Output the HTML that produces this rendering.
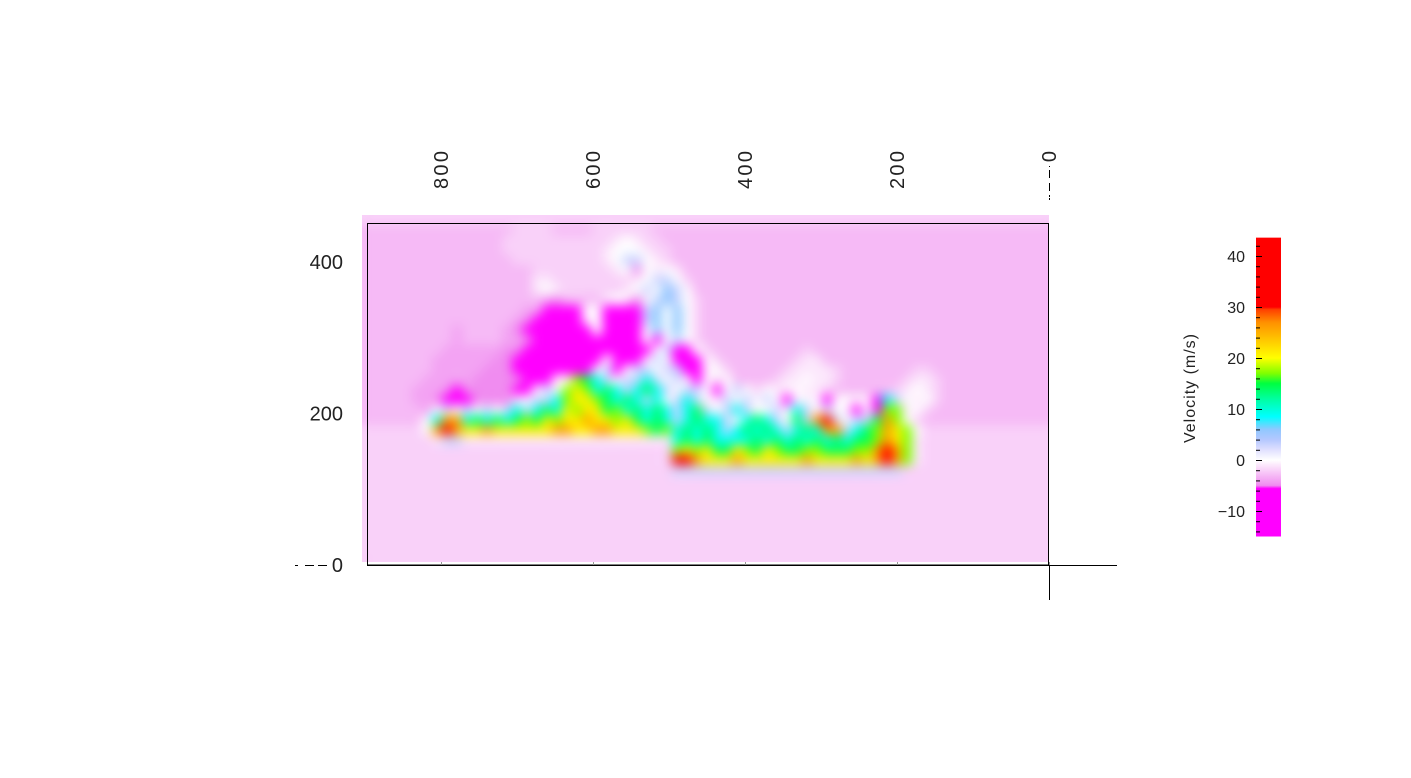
<!DOCTYPE html>
<html><head><meta charset="utf-8">
<style>
html,body{margin:0;padding:0;background:#fff;width:1411px;height:778px;overflow:hidden}
#wrap{position:relative;width:1411px;height:778px}
</style></head>
<body>
<div id="wrap">
<canvas id="heat" width="687" height="347" style="position:absolute;left:362px;top:215px"></canvas>
<svg id="ax" width="1411" height="778" style="position:absolute;left:0;top:0"></svg>
</div>
<script>
// heatmap grid: 69 cols x 35 rows, 10px cells; char codes map to velocity values (m/s)
const codeChars = ["M","m","P","p","q","l","k","w","b","B","c","g","G","y","o","r"];
const codeValues = [-13,-8,-5,-4,-3,-2,-1,0,3,6,9,14,17,21,26,35];
const q10="qqqqqqqqqq", l10="llllllllll";
const gridRows = [
l10+l10+l10+l10+l10+l10+"lllllllll",
"qqqqqqqqqq"+"qqqqqllllq"+"qqqllllllq"+q10+q10+q10+"qqqqqqqqq",
"qqqqqqqqqq"+"qqqqllllll"+"lllllkwkll"+q10+q10+q10+"qqqqqqqqq",
"qqqqqqqqqq"+"qqqqllllll"+"llllkwwwkl"+"lqqqqqqqqq"+q10+q10+"qqqqqqqqq",
"qqqqqqqqqq"+"qqqqqlllll"+"llllkwbbwk"+"lqqqqqqqqq"+q10+q10+"qqqqqqqqq",
"qqqqqqqqqq"+"qqqqqqqlll"+"lllllkwPwk"+"wkqqqqqqqq"+q10+q10+"qqqqqqqqq",
"qqqqqqqqqq"+"qqqqqqqkkl"+"lllllllkwb"+"bwlqqqqqqq"+q10+q10+"qqqqqqqqq",
"qqqqqqqqqq"+"qqqqqqqkwk"+"llllllkwbw"+"Bbwqqqqqqq"+q10+q10+"qqqqqqqqq",
"qqqqqqqqqq"+"qqqqqqqqpP"+"qqqqkwkPwb"+"Bbwlqqqqqq"+q10+q10+"qqqqqqqqq",
"qqqqqqqqqq"+"qqqqqqppmM"+"MmwwMMMmbB"+"wBwlqqqqqq"+q10+q10+"qqqqqqqqq",
"qqqqqqqqqq"+"qqqqqpPmMM"+"MMkwMMMMbB"+"wBwlqqqqqq"+q10+q10+"qqqqqqqqq",
"qqqqqqqqqp"+"qqqqpPmMMM"+"MMMwMMMMwB"+"wBwlqqqqqq"+q10+q10+"qqqqqqqqq",
"qqqqqqqqqp"+"qqqqppPMMM"+"MMMMMMMMwM"+"wbwlqqqqqq"+q10+q10+"qqqqqqqqq",
"qqqqqqqqpp"+"ppppPPMMMM"+"MMMMMMMMMw"+"bMMwlqqqqq"+"qqqqlqqqqq"+q10+"qqqqqqqqq",
"qqqqqqqppp"+"pppPPmMMMM"+"MMMMwMMMwb"+"wMMMwlqqqq"+"qqqlkkqqqq"+q10+"qqqqqqqqq",
"qqqqqqqppp"+"ppPPPmMMMM"+"MMMwbMwbbw"+"bbMMkwlqqq"+"qqlkkkklqq"+"qqqqqllqqq"+"qqqqqqqqq",
"qqqqqqpppp"+"pPPPPPmMMw"+"wGgcbwbbcb"+"wbwmwlwqqq"+"qlkkwkklqq"+"qqqqlkklqq"+"qqqqqqqqq",
"qqqqqpppPm"+"PPPPPmmwbw"+"GyGcgcbcgc"+"bwbbwmwbwl"+"wkkwkklqqq"+"qqqlkwklqq"+"qqqqqqqqq",
"qqqqqppPMM"+"MPPPPkwbbc"+"GyyGgcgcbc"+"wbcbwkbwbw"+"bwmwkwMwwk"+"wmcbwkwlqq"+"qqqqqqqqq",
"qqqqqqpwbw"+"bwbwbcbcgc"+"yGyygGcgcg"+"cbcgbwbcbw"+"wbwcbwbwkm"+"wmGGkwlqqq"+"qqqqqqqqq",
"qqqqqqwcoo"+"cgcgcgGgyG"+"yyoyyGygcg"+"cbcgccbwcg"+"cbwgborbwb"+"bgoGwlqqqq"+"qqqqqqqqq",
"llllllworo"+"yyoyyyyyyo"+"oyyooyyyGg"+"Gcgcgcbcgc"+"gcbcgcoobc"+"gGoyGwllll"+"lllllllll",
"lllllllkbb"+"kkkkkkkkkk"+"kkkkkkkkkk"+"kcgcgccccg"+"cgcgcgcgcg"+"gGoyGkllll"+"lllllllll",
l10+l10+l10+"lG"+"yGyggyGg"+"yGggGGgggG"+"GoroGkllll"+"lllllllll",
l10+l10+l10+"lr"+"royyyoyy"+"yyyyoyyyyo"+"yoroGkllll"+"lllllllll",
l10+l10+l10+"lbbbbbbbbb"+"bbbbbbbbbb"+"bbbbllllll"+"lllllllll",
l10+l10+l10+l10+l10+l10+"lllllllll",
l10+l10+l10+l10+l10+l10+"lllllllll",
l10+l10+l10+l10+l10+l10+"lllllllll",
l10+l10+l10+l10+l10+l10+"lllllllll",
l10+l10+l10+l10+l10+l10+"lllllllll",
l10+l10+l10+l10+l10+l10+"lllllllll",
l10+l10+l10+l10+l10+l10+"lllllllll",
l10+l10+l10+l10+l10+l10+"lllllllll",
l10+l10+l10+l10+l10+l10+"lllllllll"
];
// colour scale stops (value -> colour)
const scaleValues = [-15,-5.6,-5,0,2,4,6,8.5,12,15,17,20,23,27,29.5,30,44];
const scaleColors = ["#ff00ff","#ff00ff","#f08cf0","#ffffff","#e0e0ff","#b4c8ff","#90c8ff","#00ffff","#00ffa0","#00ff40","#80ff00","#ffff00","#ffd000","#ff9000","#ff4000","#ff0000","#ff0000"];
const xTicks = [800,600,400,200,0];
const yTicks = [400,200,0];
const cbTicks = [40,30,20,10,0,-10];

function hex(c){return [parseInt(c.substr(1,2),16),parseInt(c.substr(3,2),16),parseInt(c.substr(5,2),16)];}
function colorFor(v){
  if(v<=scaleValues[0])return hex(scaleColors[0]);
  for(let i=1;i<scaleValues.length;i++){
    if(v<=scaleValues[i]){const t=(v-scaleValues[i-1])/(scaleValues[i]-scaleValues[i-1]);
      const a=hex(scaleColors[i-1]),b=hex(scaleColors[i]);
      return [0,1,2].map(k=>Math.round(a[k]+(b[k]-a[k])*t));}
  }
  return hex(scaleColors[scaleColors.length-1]);
}
const xPx = u => 1049 - u*0.76;
const yPx = u => 565 - u*0.7575;
const cbY = v => 460 - v*5.1;

(function(){
  const cols=69, rows=gridRows.length;
  const src=document.createElement('canvas');src.width=cols;src.height=rows;
  const sctx=src.getContext('2d');const img=sctx.createImageData(cols,rows);
  for(let r=0;r<rows;r++){for(let c=0;c<cols;c++){
    const ch=gridRows[r][c]||'l';const idx=codeChars.indexOf(ch);
    const v=codeValues[idx<0?5:idx];const col=colorFor(v);const p=(r*cols+c)*4;
    img.data[p]=col[0];img.data[p+1]=col[1];img.data[p+2]=col[2];img.data[p+3]=255;}}
  sctx.putImageData(img,0,0);
  const ctx=document.getElementById('heat').getContext('2d');
  ctx.imageSmoothingEnabled=true;ctx.imageSmoothingQuality='high';
  ctx.drawImage(src,0,0,cols*10,rows*10);
  ctx.filter='blur(5px)';
  ctx.drawImage(src,0,0,cols*10,rows*10);
  ctx.filter='none';
})();

const svg=document.getElementById('ax');const NS='http://www.w3.org/2000/svg';
function mk(tag,attrs,name){const e=document.createElementNS(NS,tag);for(const k in attrs)e.setAttribute(k,attrs[k]);
  
  
  svg.appendChild(e);return e;}
mk('rect',{x:367.5,y:223.5,width:681,height:341.5,fill:'none',stroke:'#000','stroke-width':1},'plot-frame');
mk('line',{x1:367,y1:565.5,x2:1117,y2:565.5,stroke:'#000'},'x-axis-line');
mk('line',{x1:1049.5,y1:565,x2:1049.5,y2:600,stroke:'#000'},'y-axis-extension');
mk('line',{x1:1049.5,y1:166,x2:1049.5,y2:200,stroke:'#000','stroke-dasharray':'1 3 8 5 8 4 2'},'top-zero-tick');
mk('line',{x1:295,y1:565.5,x2:331,y2:565.5,stroke:'#000','stroke-dasharray':'3 7 9 4 9 4'},'left-zero-tick');
xTicks.forEach(v=>{
  const t=mk('text',{x:0,y:0,transform:`translate(${xPx(v)+7},${151}) rotate(-90)`,'text-anchor':'end','font-family':'Liberation Sans, sans-serif','font-size':20,'textLength':v===0?12:38,fill:'#222'},'x-tick-label');
  t.textContent=v;
  mk('line',{x1:xPx(v)+0.5,y1:562,x2:xPx(v)+0.5,y2:565,stroke:'#999'},'x-tick');
});
yTicks.forEach(v=>{
  const t=mk('text',{x:343,y:yPx(v)+7,'text-anchor':'end','font-family':'Liberation Sans, sans-serif','font-size':20,fill:'#222'},'y-tick-label');
  t.textContent=v;
});
const defs=mk('defs',{},'defs');
const lg=document.createElementNS(NS,'linearGradient');lg.setAttribute('id','cbg');lg.setAttribute('x1','0');lg.setAttribute('y1','1');lg.setAttribute('x2','0');lg.setAttribute('y2','0');
defs.appendChild(lg);
const vmin=-15,vmax=43.6;
scaleValues.forEach((v,i)=>{const s=document.createElementNS(NS,'stop');
  s.setAttribute('offset',Math.max(0,Math.min(1,(v-vmin)/(vmax-vmin))));s.setAttribute('stop-color',scaleColors[i]);lg.appendChild(s);});
mk('rect',{x:1256,y:cbY(vmax),width:25,height:cbY(vmin)-cbY(vmax),fill:'url(#cbg)'},'colorbar');
for(let v=-14;v<=42;v+=2){mk('line',{x1:1256,y1:cbY(v)+0.5,x2:v%10===0?1262:1260,y2:cbY(v)+0.5,stroke:'#000'},'colorbar-tick');}
cbTicks.forEach(v=>{const t=mk('text',{x:1245,y:cbY(v)+6,'text-anchor':'end','font-family':'Liberation Sans, sans-serif','font-size':16,fill:'#222'},'colorbar-tick-label');
  t.textContent=v<0?'\u2212'+Math.abs(v):v;});
const tt=mk('text',{x:0,y:0,transform:'translate(1195,388) rotate(-90)','text-anchor':'middle','font-family':'Liberation Sans, sans-serif','font-size':16,fill:'#222','letter-spacing':'1'},'colorbar-title');
tt.textContent='Velocity (m/s)';
</script>
</body></html>
